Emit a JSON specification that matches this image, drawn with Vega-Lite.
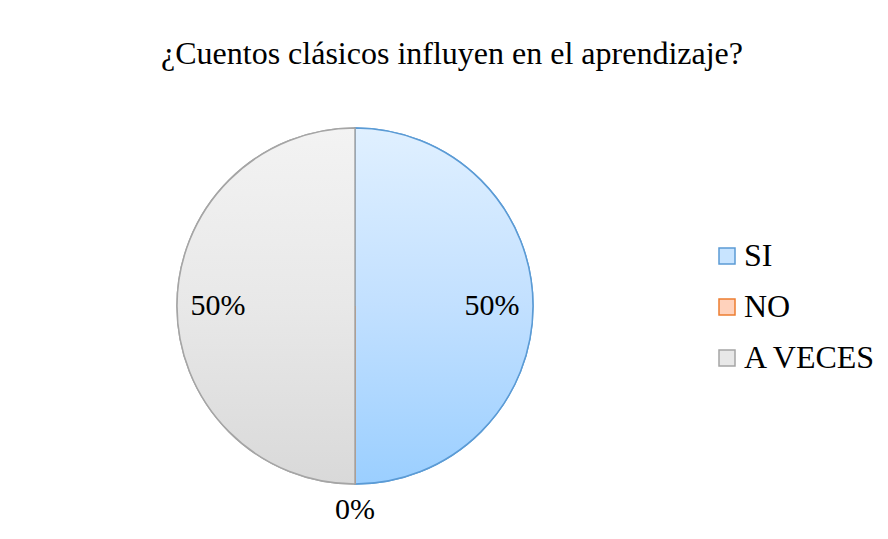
{
  "$schema": "https://vega.github.io/schema/vega-lite/v6.json",
  "autosize": "none",
  "padding": {"left": 6, "top": 8, "right": 184, "bottom": 0},
  "width": 698,
  "height": 596,
  "background": "white",
  "title": {
    "text": "¿Cuentos clásicos influyen en el aprendizaje?",
    "font": "Liberation Serif",
    "fontSize": 32,
    "fontWeight": "normal",
    "color": "black",
    "anchor": "middle",
    "baseline": "alphabetic",
    "offset": 0,
    "limit": 0,
    "dx": 97,
    "dy": 88
  },
  "data": {
    "values": [
      {"cat": "SI", "value": 0.5},
      {"cat": "NO", "value": 0},
      {"cat": "A VECES", "value": 0.5}
    ]
  },
  "encoding": {
    "theta": {"field": "value", "type": "quantitative", "stack": true},
    "order": {"field": "cat", "type": "nominal", "sort": "descending"}
  },
  "layer": [
    {
      "mark": {"type": "arc", "outerRadius": 178, "strokeWidth": 1.5},
      "encoding": {
        "fill": {
          "field": "cat",
          "type": "nominal",
          "sort": ["SI", "NO", "A VECES"],
          "scale": {
            "domain": ["SI", "NO", "A VECES"],
            "range": ["#C8E4FF", "#FFD2BC", "#E8E8E8"]
          },
          "legend": {
            "orient": "none",
            "legendX": 705,
            "legendY": 232,
            "title": null,
            "padding": 0,
            "symbolType": "square",
            "symbolSize": 256,
            "symbolStrokeWidth": 1.5,
            "labelFont": "Liberation Serif",
            "labelFontSize": 32,
            "labelColor": "black",
            "labelOffset": 1,
            "labelLimit": 0,
            "rowPadding": 19
          }
        },
        "stroke": {
          "field": "cat",
          "type": "nominal",
          "sort": ["SI", "NO", "A VECES"],
          "scale": {
            "domain": ["SI", "NO", "A VECES"],
            "range": ["#5B9BD5", "#ED7D31", "#A5A5A5"]
          }
        }
      }
    },
    {
      "mark": {"type": "arc", "outerRadius": 178, "strokeWidth": 1.5},
      "encoding": {
        "fill": {
          "condition": [
            {"test": "datum.cat == 'SI'", "value": {"gradient": "linear", "x1": 0, "y1": 0, "x2": 0, "y2": 1, "stops": [{"offset": 0, "color": "#E0F0FF"}, {"offset": 0.5, "color": "#C2E0FF"}, {"offset": 1, "color": "#9BCFFF"}]}},
            {"test": "datum.cat == 'NO'", "value": {"gradient": "linear", "x1": 0, "y1": 0, "x2": 0, "y2": 1, "stops": [{"offset": 0, "color": "#FFE6DA"}, {"offset": 1, "color": "#FFB894"}]}}
          ],
          "value": {"gradient": "linear", "x1": 0, "y1": 0, "x2": 0, "y2": 1, "stops": [{"offset": 0, "color": "#F3F3F3"}, {"offset": 0.5, "color": "#E8E8E8"}, {"offset": 1, "color": "#D9D9D9"}]}
        },
        "stroke": {
          "field": "cat",
          "type": "nominal",
          "sort": ["SI", "NO", "A VECES"],
          "scale": {
            "domain": ["SI", "NO", "A VECES"],
            "range": ["#5B9BD5", "#ED7D31", "#A5A5A5"]
          }
        }
      }
    },
    {
      "mark": {"type": "text", "radius": 137, "font": "Liberation Serif", "fontSize": 30, "color": "black", "align": "center", "baseline": "middle"},
      "encoding": {
        "text": {"condition": {"test": "datum.value > 0", "field": "value", "type": "quantitative", "format": ".0%"}, "value": ""}
      }
    },
    {
      "mark": {"type": "text", "radius": 204, "font": "Liberation Serif", "fontSize": 30, "color": "black", "align": "center", "baseline": "middle"},
      "encoding": {
        "text": {"condition": {"test": "datum.value == 0", "field": "value", "type": "quantitative", "format": ".0%"}, "value": ""}
      }
    }
  ],
  "config": {"view": {"stroke": null}}
}
